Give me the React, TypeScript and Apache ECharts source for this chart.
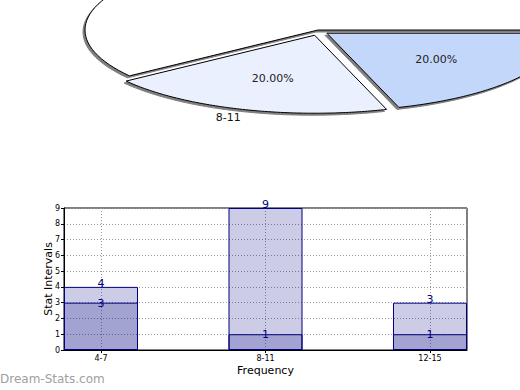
import React, { useEffect, useRef } from 'react';
import * as echarts from 'echarts';

const categories = ['4-7', '8-11', '12-15'];
const totalValues = [4, 9, 3];
const lowerValues = [3, 1, 1];
const pieValues = [3, 1, 1];
const pieColors = ['#ffffff', '#eaf0fd', '#c3d7fb'];
const pieExploded = [false, true, true];
const xPositions = [0, 1, 2];

const FONT = 'DejaVu Sans';
const PIE = { cx: 318, cy: 30, rx: 233, ry: 78, explode: 11, explodeY: 0.5 };

export default function App() {
  const ref = useRef<HTMLDivElement>(null);
  useEffect(() => {
    if (!ref.current) return;
    document.body.style.margin = '0';
    const chart = echarts.init(ref.current, undefined, { renderer: 'svg' });
    const total = pieValues.reduce((a, b) => a + b, 0);

    const renderPie = (params: any, api: any) => {
      const i = params.dataIndex;
      const v = api.value(0);
      let before = 0;
      for (let j = 0; j < i; j++) before += pieValues[j];
      const a0 = (before / total) * Math.PI * 2;
      const a1 = ((before + v) / total) * Math.PI * 2;
      const mid = (a0 + a1) / 2;
      const ex = pieExploded[i] ? PIE.explode * Math.cos(mid) : 0;
      const ey = pieExploded[i] ? -PIE.explode * PIE.explodeY * Math.sin(mid) : 0;
      const ox = PIE.cx + ex;
      const oy = PIE.cy + ey;
      const pts: number[][] = [[ox, oy]];
      const steps = 90;
      for (let k = 0; k <= steps; k++) {
        const a = a0 + ((a1 - a0) * k) / steps;
        pts.push([ox + PIE.rx * Math.cos(a), oy - PIE.ry * Math.sin(a)]);
      }
      const c = Math.cos(mid);
      const s = Math.sin(mid);
      return {
        type: 'group',
        children: [
          {
            type: 'polygon',
            shape: { points: pts },
            style: {
              fill: pieColors[i],
              stroke: '#000',
              lineWidth: 1,
              shadowColor: 'rgba(0,0,0,0.5)',
              shadowBlur: 1,
              shadowOffsetX: -2,
              shadowOffsetY: 2,
            },
          },
          {
            type: 'text',
            x: ox + 0.58 * PIE.rx * c,
            y: oy - 0.58 * PIE.ry * s,
            style: {
              text: ((v / total) * 100).toFixed(2) + '%',
              fontFamily: FONT,
              fontSize: 11,
              fill: '#222',
              align: 'center',
              verticalAlign: 'middle',
            },
          },
          {
            type: 'text',
            x: ox + (PIE.rx + 6) * c + (c > 0 ? 4 : 0),
            y: oy - (PIE.ry + 8) * s,
            style: {
              text: categories[i],
              fontFamily: FONT,
              fontSize: 11,
              fill: '#111',
              align: c < 0 ? 'right' : 'left',
              verticalAlign: 'middle',
            },
          },
        ],
      };
    };

    chart.setOption({
      animation: false,
      textStyle: { fontFamily: FONT },
      grid: {
        left: 64,
        right: 53,
        top: 208,
        bottom: 40,
        show: true,
        borderColor: '#000',
        borderWidth: 1,
        backgroundColor: 'transparent',
      },
      xAxis: {
        type: 'value',
        min: -0.225,
        max: 2.225,
        name: 'Frequency',
        nameLocation: 'middle',
        nameGap: 15,
        nameMoveOverlap: false,
        nameTextStyle: { fontFamily: FONT, fontSize: 11, color: '#000' },
        axisLine: { onZero: false, lineStyle: { color: '#000' } },
        axisTick: { show: true, length: 3, customValues: xPositions, lineStyle: { color: '#000' } },
        axisLabel: {
          customValues: xPositions,
          fontSize: 8,
          color: '#000',
          margin: 4,
          formatter: (val: number) => categories[Math.round(val)] ?? '',
        },
        splitLine: { show: true, lineStyle: { color: '#999', type: [1, 2], width: 1 } },
      },
      yAxis: {
        type: 'value',
        min: 0,
        max: 9,
        interval: 1,
        name: 'Stat Intervals',
        nameLocation: 'middle',
        nameGap: 10,
        nameMoveOverlap: false,
        nameTextStyle: { fontFamily: FONT, fontSize: 11, color: '#000' },
        axisLine: { show: true, onZero: false, lineStyle: { color: '#000' } },
        axisTick: { show: true, length: 3, lineStyle: { color: '#000' } },
        axisLabel: { fontSize: 8, color: '#000', margin: 4 },
        splitLine: { show: true, lineStyle: { color: '#999', type: [1, 2], width: 1 } },
      },
      series: [
        {
          type: 'bar',
          data: totalValues.map((v, i) => [xPositions[i], v]),
          barWidth: 74,
          barGap: '-100%',
          itemStyle: { color: 'rgba(0,0,128,0.2)', borderColor: '#000080', borderWidth: 1 },
          label: {
            show: true,
            position: 'top',
            distance: -2,
            color: '#000080',
            fontSize: 11,
            fontFamily: FONT,
            formatter: (p: any) => String(p.value[1]),
          },
        },
        {
          type: 'bar',
          data: lowerValues.map((v, i) => [xPositions[i], v]),
          barWidth: 74,
          barGap: '-100%',
          itemStyle: { color: 'rgba(0,0,128,0.2)', borderColor: '#000080', borderWidth: 1 },
          label: {
            show: true,
            position: 'top',
            distance: -6,
            color: '#000080',
            fontSize: 11,
            fontFamily: FONT,
            formatter: (p: any) => String(p.value[1]),
          },
        },
        {
          type: 'custom',
          coordinateSystem: 'none',
          data: pieValues,
          renderItem: renderPie,
          z: 5,
        },
      ],
      graphic: [
        {
          type: 'text',
          left: 0,
          top: 373,
          style: {
            text: 'Dream-Stats.com',
            fontFamily: FONT,
            fontSize: 12,
            fill: '#a0a0a0',
          },
        },
      ],
    });
    return () => chart.dispose();
  }, []);
  return <div ref={ref} style={{ width: 520, height: 390 }} />;
}
